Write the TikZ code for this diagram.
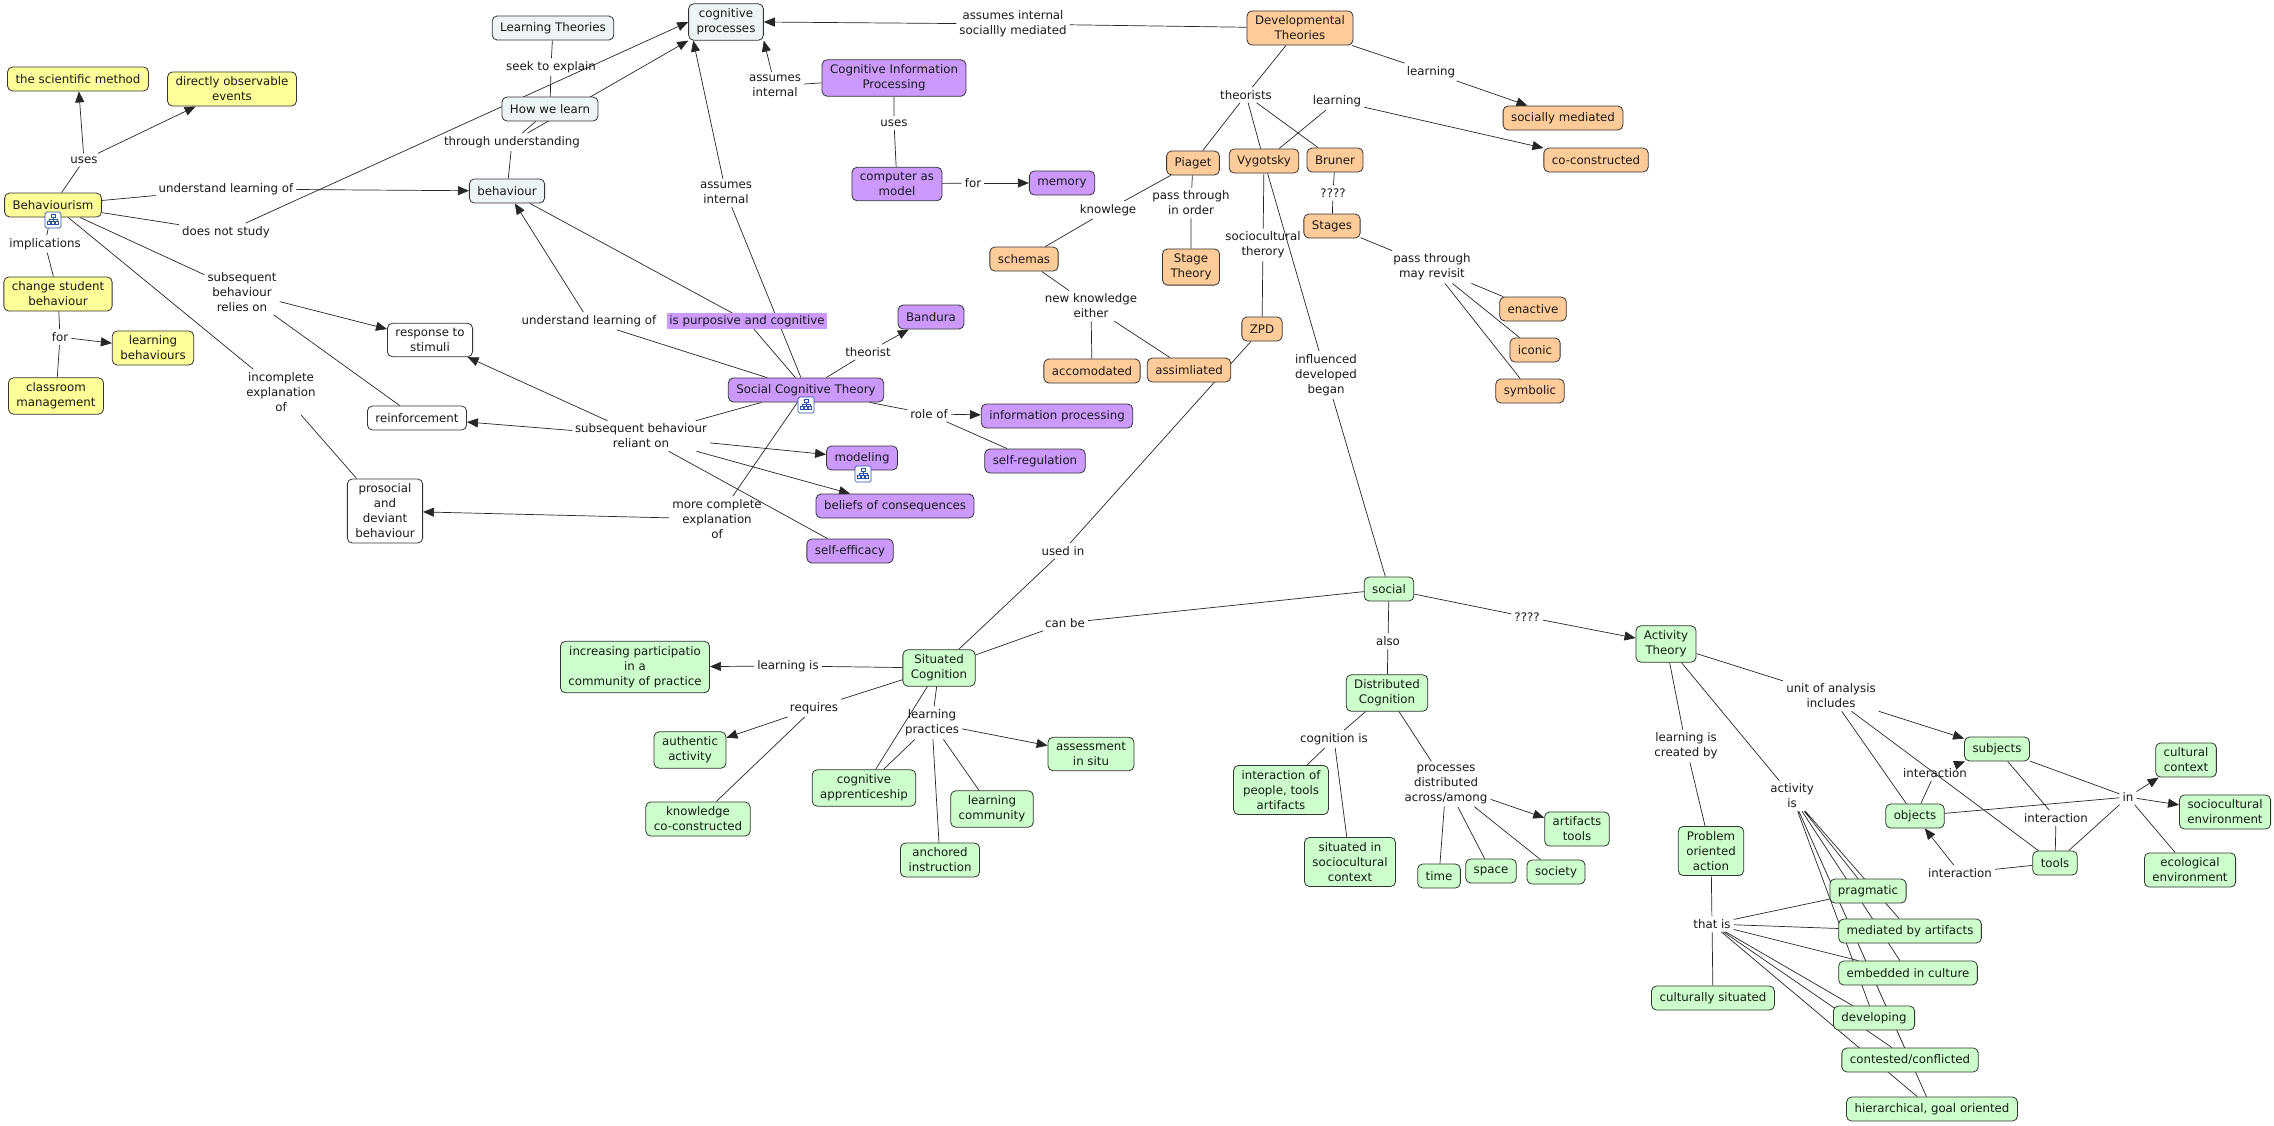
\documentclass[tikz,border=0pt]{standalone}
\usepackage{fontspec}
\setmainfont{DejaVu Sans}
\usetikzlibrary{arrows.meta}
\pgfdeclarelayer{background}
\pgfsetlayers{background,main}
\definecolor{cmYellow}{RGB}{255,255,153}
\definecolor{cmBlue}{RGB}{237,244,246}
\definecolor{cmPurple}{RGB}{204,153,255}
\definecolor{cmOrange}{RGB}{255,204,153}
\definecolor{cmGreen}{RGB}{204,255,204}
\definecolor{cmIcon}{RGB}{40,80,170}
\begin{document}
\begin{tikzpicture}[x=1pt, y=-1pt,
      every node/.style={font=\fontsize{11.8}{15}\selectfont, text=black!90},
      cbox/.style={draw=black!80, line width=0.8pt, rounded corners=5pt, align=center,
                   inner xsep=8pt, inner ysep=5pt, minimum height=24pt},
      yc/.style={cbox, fill=cmYellow},
      bc/.style={cbox, fill=cmBlue},
      wc/.style={cbox, fill=white},
      pc/.style={cbox, fill=cmPurple},
      oc/.style={cbox, fill=cmOrange},
      gc/.style={cbox, fill=cmGreen},
      lnk/.style={align=center, inner sep=3pt},
      cl/.style={line width=0.7pt, draw=black!85},
      ca/.style={cl, -{Triangle[length=11pt,width=9pt]}},
      cicon/.pic={
            \draw[fill=white, draw=cmIcon, line width=0.7pt, rounded corners=1.5pt] (-8,-8) rectangle (8,8);
            \draw[draw=cmIcon, line width=0.6pt] (-2,-6) rectangle (2,-3) (0,-3) -- (0,1) (-4,-1) -- (4,-1)
                  (-4,-1) -- (-4,1) (4,-1) -- (4,1) (-5.5,1) rectangle (-2.5,4.5) (-1.5,1) rectangle (1.5,4.5)
                  (2.5,1) rectangle (5.5,4.5);
      }]
      \useasboundingbox (0,0) rectangle (2274,1125);

      \draw (78,79) node[yc] (sci) {the scientific method};
      \draw (232,89) node[yc] (obs) {directly observable\\events};
      \draw (53,205) node[yc] (beh) {Behaviourism};
      \draw (58,294) node[yc] (csb) {change student\\behaviour};
      \draw (153,348) node[yc] (lbh) {learning\\behaviours};
      \draw (56,396) node[yc] (cmg) {classroom\\management};

      \draw (553,28) node[bc] (lt) {Learning Theories};
      \draw (550,109) node[bc] (hwl) {How we learn};
      \draw (726,22) node[bc] (cp) {cognitive\\processes};
      \draw (507,191) node[bc] (bhv) {behaviour};

      \draw (430,340) node[wc] (rts) {response to\\stimuli};
      \draw (417,418) node[wc] (rei) {reinforcement};
      \draw (385,511) node[wc] (pro) {prosocial\\and\\deviant\\behaviour};

      \draw (894,78) node[pc] (cip) {Cognitive Information\\Processing};
      \draw (897,184) node[pc] (cam) {computer as\\model};
      \draw (1062,183) node[pc] (mem) {memory};
      \draw (806,390) node[pc] (sct) {Social Cognitive Theory};
      \draw (931,317) node[pc] (ban) {Bandura};
      \draw (1057,416) node[pc] (inf) {information processing};
      \draw (1035,461) node[pc] (sreg) {self-regulation};
      \draw (862,458) node[pc] (mod) {modeling};
      \draw (895,506) node[pc] (bel) {beliefs of consequences};
      \draw (850,551) node[pc] (sef) {self-efficacy};

      \draw (1300,28) node[oc] (dev) {Developmental\\Theories};
      \draw (1563,118) node[oc] (smed) {socially mediated};
      \draw (1596,160) node[oc] (cocon) {co-constructed};
      \draw (1193,163) node[oc] (pia) {Piaget};
      \draw (1264,161) node[oc] (vyg) {Vygotsky};
      \draw (1335,160) node[oc] (bru) {Bruner};
      \draw (1332,226) node[oc] (stg) {Stages};
      \draw (1024,259) node[oc] (sch) {schemas};
      \draw (1191,267) node[oc] (sth) {Stage\\Theory};
      \draw (1533,309) node[oc] (ena) {enactive};
      \draw (1262,329) node[oc] (zpd) {ZPD};
      \draw (1535,350) node[oc] (ico) {iconic};
      \draw (1092,371) node[oc] (acc) {accomodated};
      \draw (1189,370) node[oc] (ass) {assimliated};
      \draw (1530,391) node[oc] (sym) {symbolic};

      \draw (1389,589) node[gc] (soc) {social};
      \draw (939,668) node[gc] (sc) {Situated\\Cognition};
      \draw (635,667) node[gc] (ipc) {increasing participatio\\in a\\community of practice};
      \draw (690,750) node[gc] (aut) {authentic\\activity};
      \draw (698,819) node[gc] (kco) {knowledge\\co-constructed};
      \draw (864,788) node[gc] (cap) {cognitive\\apprenticeship};
      \draw (992,809) node[gc] (lco) {learning\\community};
      \draw (940,860) node[gc] (anc) {anchored\\instruction};
      \draw (1091,754) node[gc] (ais) {assessment\\in situ};
      \draw (1387,693) node[gc] (dc) {Distributed\\Cognition};
      \draw (1281,790) node[gc] (ipt) {interaction of\\people, tools\\artifacts};
      \draw (1350,862) node[gc] (ssc) {situated in\\sociocultural\\context};
      \draw (1577,829) node[gc] (art) {artifacts\\tools};
      \draw (1439,876) node[gc] (tim) {time};
      \draw (1491,871) node[gc] (spa) {space};
      \draw (1556,872) node[gc] (sty) {society};
      \draw (1666,644) node[gc] (at) {Activity\\Theory};
      \draw (1711,851) node[gc] (poa) {Problem\\oriented\\action};
      \draw (1713,998) node[gc] (cus) {culturally situated};
      \draw (1868,891) node[gc] (prg) {pragmatic};
      \draw (1910,931) node[gc] (mba) {mediated by artifacts};
      \draw (1908,973) node[gc] (emb) {embedded in culture};
      \draw (1874,1018) node[gc] (dvl) {developing};
      \draw (1910,1060) node[gc] (cnf) {contested/conflicted};
      \draw (1932,1109) node[gc] (hgo) {hierarchical, goal oriented};
      \draw (1997,749) node[gc] (sub) {subjects};
      \draw (1915,816) node[gc] (obj) {objects};
      \draw (2055,863) node[gc] (tls) {tools};
      \draw (2186,760) node[gc] (ccx) {cultural\\context};
      \draw (2225,812) node[gc] (sce) {sociocultural\\environment};
      \draw (2190,870) node[gc] (eco) {ecological\\environment};

      \draw (84,160) node[lnk] (luses) {uses};
      \draw (226,189) node[lnk] (lul1) {understand learning of};
      \draw (226,232) node[lnk] (ldns) {does not study};
      \draw (45,244) node[lnk] (limp) {implications};
      \draw (60,337) node[lnk] (lfor1) {for};
      \draw (242,292) node[lnk] (lsbr) {subsequent\\behaviour\\relies on};
      \draw (281,392) node[lnk] (linc) {incomplete\\explanation\\of};
      \draw (551,67) node[lnk] (lste) {seek to explain};
      \draw (512,142) node[lnk] (ltu) {through understanding};
      \draw (775,86) node[lnk] (lai1) {assumes\\internal};
      \draw (894,123) node[lnk] (luses2) {uses};
      \draw (973,183) node[lnk] (lfor2) {for};
      \draw (726,193) node[lnk] (lai2) {assumes\\internal};
      \draw (1013,24) node[lnk] (lais) {assumes internal\\sociallly mediated};
      \draw (1431,72) node[lnk] (llrn1) {learning};
      \draw (1246,95) node[lnk] (lthe) {theorists};
      \draw (1337,101) node[lnk] (llrn2) {learning};
      \draw (1108,210) node[lnk] (lkno) {knowlege};
      \draw (1191,203) node[lnk] (lpti) {pass through\\in order};
      \draw (1333,193) node[lnk] (lqq1) {????};
      \draw (1263,245) node[lnk] (lsoc) {sociocultural\\therory};
      \draw (1432,267) node[lnk] (lptm) {pass through\\may revisit};
      \draw (1091,306) node[lnk] (lnke) {new knowledge\\either};
      \draw (1326,375) node[lnk] (lidb) {influenced\\developed\\began};
      \draw (589,321) node[lnk] (lul2) {understand learning of};
      \draw (747,321) node[lnk, fill=cmPurple, inner sep=2pt] (lipc) {is purposive and cognitive};
      \draw (868,352) node[lnk] (lthr) {theorist};
      \draw (929,414) node[lnk] (lrol) {role of};
      \draw (641,436) node[lnk] (lsbn) {subsequent behaviour\\reliant on};
      \draw (717,519) node[lnk] (lmce) {more complete\\explanation\\of};
      \draw (1063,551) node[lnk] (lusd) {used in};
      \draw (1065,623) node[lnk] (lcan) {can be};
      \draw (1388,641) node[lnk] (lals) {also};
      \draw (1527,617) node[lnk] (lqq2) {????};
      \draw (788,666) node[lnk] (llis) {learning is};
      \draw (814,708) node[lnk] (lreq) {requires};
      \draw (932,723) node[lnk] (llpr) {learning\\practices};
      \draw (1334,739) node[lnk] (lcog) {cognition is};
      \draw (1446,784) node[lnk] (lpda) {processes\\distributed\\across/among};
      \draw (1686,746) node[lnk] (llcb) {learning is\\created by};
      \draw (1831,696) node[lnk] (luai) {unit of analysis\\includes};
      \draw (1935,773) node[lnk] (lint1) {interaction};
      \draw (1792,796) node[lnk] (lact) {activity\\is};
      \draw (2128,797) node[lnk] (lin) {in};
      \draw (2056,818) node[lnk] (lint2) {interaction};
      \draw (1960,873) node[lnk] (lint3) {interaction};
      \draw (1712,924) node[lnk] (ltis) {that is};

      \draw (53,220) pic {cicon};
      \draw (806,405) pic {cicon};
      \draw (863,474) pic {cicon};

      \begin{pgfonlayer}{background}
            \fill[white] (0,0) rectangle (2274,1125);
            \draw[cl] (beh) -- (luses);
            \draw[ca] (luses) -- (sci);
            \draw[ca] (luses) -- (obs);
            \draw[cl] (beh) -- (lul1);
            \draw[ca] (lul1) -- (bhv);
            \draw[cl] (beh) -- (ldns);
            \draw[ca] (ldns) -- (cp.west);
            \draw[cl] (beh) -- (limp) -- (csb);
            \draw[cl] (csb) -- (lfor1) -- (cmg);
            \draw[ca] (lfor1) -- (lbh);
            \draw[cl] (beh) -- (lsbr);
            \draw[ca] (lsbr) -- (rts);
            \draw[cl] (lsbr) -- (rei);
            \draw[cl] (beh) -- (linc) -- (pro);
            \draw[cl] (lt) -- (lste) -- (hwl);
            \draw[cl] (hwl) -- (ltu) -- (bhv);
            \draw[ca] (ltu) -- (cp.south west);
            \draw[cl] (cip) -- (lai1);
            \draw[ca] (lai1) -- (cp.south east);
            \draw[cl] (cip) -- (luses2) -- (cam);
            \draw[cl] (cam) -- (lfor2);
            \draw[ca] (lfor2) -- (mem);
            \draw[cl] (dev) -- (lais);
            \draw[ca] (lais) -- (cp.east);
            \draw[cl] (dev) -- (llrn1);
            \draw[ca] (llrn1) -- (smed);
            \draw[cl] (dev) -- (lthe) (lthe) -- (pia) (lthe) -- (vyg) (lthe) -- (bru);
            \draw[cl] (vyg) -- (llrn2);
            \draw[ca] (llrn2) -- (cocon);
            \draw[cl] (pia) -- (lkno) -- (sch);
            \draw[cl] (pia) -- (lpti) -- (sth);
            \draw[cl] (bru) -- (lqq1) -- (stg);
            \draw[cl] (stg) -- (lptm) (lptm) -- (ena) (lptm) -- (ico) (lptm) -- (sym);
            \draw[cl] (vyg) -- (lsoc) -- (zpd);
            \draw[cl] (vyg) -- (lidb) -- (soc);
            \draw[cl] (sch) -- (lnke) (lnke) -- (acc) (lnke) -- (ass);
            \draw[cl] (zpd) -- (lusd) -- (sc);
            \draw[cl] (sct) -- (lul2);
            \draw[ca] (lul2) -- (bhv);
            \draw[cl] (sct) -- (lipc) -- (bhv);
            \draw[cl] (sct) -- (lai2);
            \draw[ca] (lai2) -- ([xshift=5pt]cp.south west);
            \draw[cl] (sct) -- (lthr);
            \draw[ca] (lthr) -- (ban);
            \draw[cl] (sct) -- (lrol) (lrol) -- (sreg);
            \draw[ca] (lrol) -- (inf);
            \draw[cl] (sct) -- (lsbn) (lsbn) -- (sef);
            \draw[ca] (lsbn) -- (rts);
            \draw[ca] (lsbn) -- (rei);
            \draw[ca] (lsbn) -- (mod);
            \draw[ca] (lsbn) -- (bel);
            \draw[cl] (sct) -- (lmce);
            \draw[ca] (lmce) -- (pro);
            \draw[cl] (soc) -- (lcan) -- (sc);
            \draw[cl] (soc) -- (lals) -- (dc);
            \draw[cl] (soc) -- (lqq2);
            \draw[ca] (lqq2) -- (at);
            \draw[cl] (sc) -- (llis);
            \draw[ca] (llis) -- (ipc);
            \draw[cl] (sc) -- (lreq) (lreq) -- (kco);
            \draw[ca] (lreq) -- (aut);
            \draw[cl] (sc) -- (llpr) (llpr) -- (cap) (llpr) -- (lco) (llpr) -- (anc) (sc) -- (cap);
            \draw[ca] (llpr) -- (ais);
            \draw[cl] (dc) -- (lcog) (lcog) -- (ipt) (lcog) -- (ssc);
            \draw[cl] (dc) -- (lpda) (lpda) -- (tim) (lpda) -- (spa) (lpda) -- (sty);
            \draw[ca] (lpda) -- (art);
            \draw[cl] (at) -- (llcb) -- (poa);
            \draw[cl] (at) -- (lact) (lact) -- (prg) (lact) -- (mba) (lact) -- (emb)
                  (lact) -- (dvl) (lact) -- (cnf) (lact) -- (hgo);
            \draw[cl] (poa) -- (ltis) (ltis) -- (cus) (ltis) -- (prg) (ltis) -- (mba) (ltis) -- (emb)
                  (ltis) -- (dvl) (ltis) -- (cnf) (ltis) -- (hgo);
            \draw[cl] (at) -- (luai) (luai) -- (obj) (luai) -- (tls);
            \draw[ca] (luai) -- (sub);
            \draw[cl] (obj) -- (lint1);
            \draw[ca] (lint1) -- (sub);
            \draw[cl] (sub) -- (lint2) -- (tls);
            \draw[cl] (tls) -- (lint3);
            \draw[ca] (lint3) -- (obj);
            \draw[cl] (sub) -- (lin) (obj) -- (lin) (tls) -- (lin) (lin) -- (eco);
            \draw[ca] (lin) -- (ccx);
            \draw[ca] (lin) -- (sce);
      \end{pgfonlayer}
\end{tikzpicture}
\end{document}
